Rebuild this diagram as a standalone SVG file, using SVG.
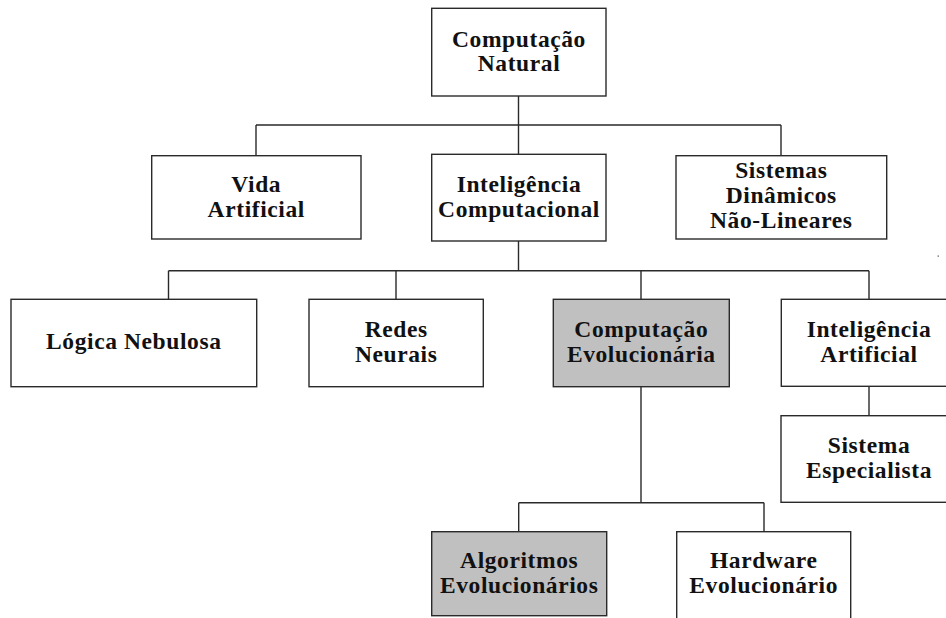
<svg xmlns="http://www.w3.org/2000/svg" width="946" height="618" viewBox="0 0 946 618">
  <style>
    .box { fill: #ffffff; stroke: #2a2a2a; stroke-width: 1.4; }
    .hl { fill: #c0c0c0; }
    .lbl { font-family: "Liberation Serif", "Times New Roman", serif; font-weight: bold; font-size: 23.5px; letter-spacing: 0.6px; fill: #111111; text-anchor: middle; }
    .wire { fill: none; stroke: #2a2a2a; stroke-width: 1.4; }
  </style>
  <rect width="946" height="618" fill="#ffffff"/>

  <g id="connectors">
    <path class="wire" d="M518.5 96 V125 M256 125 H781 M256 125 V155.5 M518.5 125 V154.5 M781 125 V155.5"/>
    <path class="wire" d="M518.5 241 V270.7 M168.5 270.7 H869 M168.5 270.7 V299.3 M396 270.7 V299.3 M641 270.7 V299.3 M869 270.7 V299.3"/>
    <path class="wire" d="M641 386.7 V502.7 M518.7 502.7 H764 M518.7 502.7 V531.7 M764 502.7 V531.7"/>
    <path class="wire" d="M869 386.3 V415.7"/>
  </g>

  <g id="computacao-natural">
    <rect class="box" x="431.7" y="8.3" width="174.3" height="87.7"/>
    <text class="lbl" x="519" y="46.7">Computação</text>
    <text class="lbl" x="519" y="71.3">Natural</text>
  </g>

  <g id="vida-artificial">
    <rect class="box" x="151.7" y="155.7" width="209.3" height="83.3"/>
    <text class="lbl" x="256.3" y="192.3">Vida</text>
    <text class="lbl" x="256.3" y="216.7">Artificial</text>
  </g>

  <g id="inteligencia-computacional">
    <rect class="box" x="431.7" y="154.3" width="174.3" height="86.7"/>
    <text class="lbl" x="519" y="192.3">Inteligência</text>
    <text class="lbl" x="519" y="216.7">Computacional</text>
  </g>

  <g id="sistemas-dinamicos">
    <rect class="box" x="676" y="155.7" width="210.7" height="83.3"/>
    <text class="lbl" x="781.3" y="178.3">Sistemas</text>
    <text class="lbl" x="781.3" y="203.3">Dinâmicos</text>
    <text class="lbl" x="781.3" y="228.3">Não-Lineares</text>
  </g>

  <g id="logica-nebulosa">
    <rect class="box" x="11" y="299.3" width="245.7" height="87.4"/>
    <text class="lbl" x="133.8" y="349.3">Lógica Nebulosa</text>
  </g>

  <g id="redes-neurais">
    <rect class="box" x="309" y="299.3" width="174.3" height="87.4"/>
    <text class="lbl" x="396.2" y="336.7">Redes</text>
    <text class="lbl" x="396.2" y="361.7">Neurais</text>
  </g>

  <g id="computacao-evolucionaria">
    <rect class="box hl" x="553.3" y="299.3" width="176" height="87.4"/>
    <text class="lbl" x="641.3" y="336.7">Computação</text>
    <text class="lbl" x="641.3" y="361.7">Evolucionária</text>
  </g>

  <g id="inteligencia-artificial">
    <rect class="box" x="781.3" y="299.3" width="175.4" height="87"/>
    <text class="lbl" x="869" y="336.7">Inteligência</text>
    <text class="lbl" x="869" y="361.7">Artificial</text>
  </g>

  <g id="sistema-especialista">
    <rect class="box" x="781" y="415.7" width="175.7" height="86.6"/>
    <text class="lbl" x="869" y="453.3">Sistema</text>
    <text class="lbl" x="869" y="478.3">Especialista</text>
  </g>

  <g id="algoritmos-evolucionarios">
    <rect class="box hl" x="431.7" y="531.7" width="175" height="84"/>
    <text class="lbl" x="519.2" y="567.7">Algoritmos</text>
    <text class="lbl" x="519.2" y="592.7">Evolucionários</text>
  </g>

  <g id="hardware-evolucionario">
    <rect class="box" x="676.7" y="531.7" width="174" height="95"/>
    <text class="lbl" x="763.7" y="567.7">Hardware</text>
    <text class="lbl" x="763.7" y="592.7">Evolucionário</text>
  </g>

  <rect x="937.5" y="255.5" width="1.5" height="1.2" fill="#666666"/>
</svg>
